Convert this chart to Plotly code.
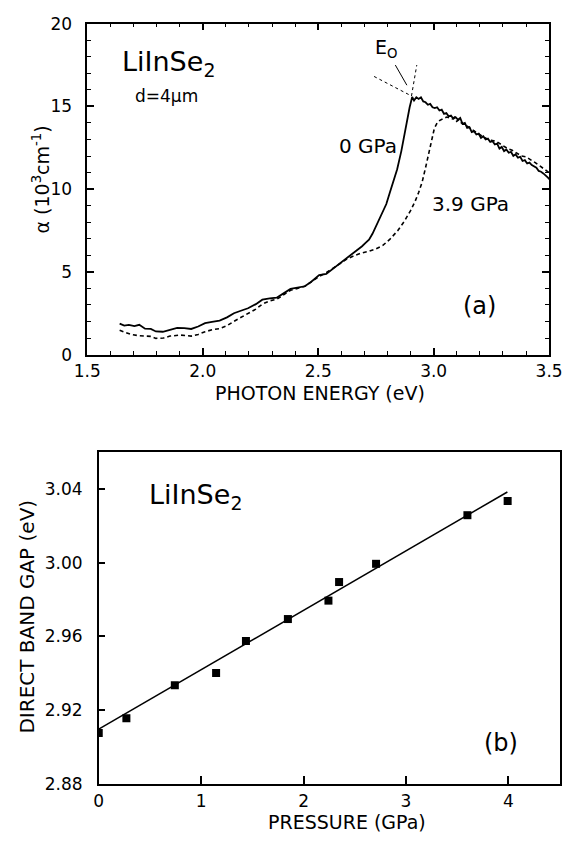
import plotly.graph_objects as go

# ---------------- data: panel (a) ----------------
e_0gpa = [1.640, 1.660, 1.680, 1.704, 1.725, 1.750, 1.775, 1.797, 1.827, 1.860, 1.889, 1.920, 1.950,
          1.980, 2.010, 2.040, 2.073, 2.105, 2.135, 2.165, 2.196, 2.230, 2.258, 2.290, 2.320, 2.350,
          2.380, 2.410, 2.442, 2.470, 2.504, 2.535, 2.565, 2.596, 2.627, 2.658, 2.690, 2.705, 2.720,
          2.735, 2.750, 2.765, 2.780, 2.795, 2.811, 2.825, 2.842, 2.860, 2.873, 2.885, 2.896, 2.907,
          2.915, 2.925, 2.935, 2.945, 2.955,
          2.965, 2.975, 2.985, 2.995, 3.005, 3.015, 3.025, 3.035, 3.045, 3.055, 3.065, 3.075, 3.085,
          3.095, 3.105, 3.115, 3.125, 3.135, 3.145, 3.155, 3.165, 3.175, 3.185, 3.195, 3.205, 3.215,
          3.225, 3.235, 3.245, 3.255, 3.265, 3.275, 3.285, 3.295, 3.305, 3.315, 3.325, 3.335, 3.345,
          3.355, 3.365, 3.375, 3.385, 3.395, 3.405, 3.415, 3.425, 3.435, 3.445, 3.455, 3.465, 3.475,
          3.485, 3.495, 3.500]
a_0gpa = [1.87, 1.75, 1.80, 1.72, 1.80, 1.57, 1.55, 1.40, 1.38, 1.50, 1.62, 1.60, 1.55,
          1.70, 1.90, 1.98, 2.05, 2.25, 2.50, 2.65, 2.80, 3.05, 3.32, 3.40, 3.44, 3.70,
          3.97, 4.05, 4.13, 4.40, 4.80, 4.88, 5.20, 5.55, 5.85, 6.19, 6.55, 6.75, 6.95,
          7.30, 7.75, 8.10, 8.55, 9.10, 9.83, 10.50, 11.20, 12.30, 13.30, 14.20, 14.95, 15.57,
          15.35, 15.55, 15.45, 15.55, 15.30,
          15.25, 15.10, 15.15, 14.95, 14.90, 14.95, 14.75, 14.80, 14.55, 14.60, 14.40, 14.45, 14.25,
          14.35, 14.20, 14.30, 13.95, 14.00, 13.70, 13.75, 13.45, 13.50, 13.30, 13.35, 13.10, 13.20,
          13.00, 13.05, 12.85, 12.90, 12.70, 12.75, 12.45, 12.55, 12.30, 12.40, 12.20, 12.25, 12.00,
          12.10, 11.90, 11.95, 11.70, 11.75, 11.55, 11.60, 11.45, 11.35, 11.30, 11.10, 11.05, 10.95,
          10.85, 10.70, 10.60]

e_39gpa = [1.640, 1.660, 1.689, 1.720, 1.750, 1.775, 1.797, 1.830, 1.858, 1.904, 1.950, 1.980,
           2.010, 2.040, 2.073, 2.105, 2.135, 2.165, 2.196, 2.230, 2.258, 2.290, 2.320, 2.350,
           2.380, 2.410, 2.442, 2.470, 2.504, 2.535, 2.565, 2.596, 2.627, 2.660, 2.688, 2.720,
           2.750, 2.780, 2.811, 2.845, 2.873, 2.900, 2.919, 2.935, 2.950, 2.965, 2.980, 2.992,
           3.003, 3.015, 3.027, 3.040, 3.057, 3.070, 3.080, 3.090, 3.100, 3.110, 3.120, 3.135,
           3.150, 3.170, 3.190, 3.210, 3.230, 3.250, 3.270, 3.280, 3.300, 3.320, 3.340, 3.360,
           3.380, 3.400, 3.420, 3.440, 3.460, 3.480, 3.500]
a_39gpa = [1.47, 1.35, 1.22, 1.15, 1.12, 1.10, 0.98, 1.00, 1.12, 1.18, 1.12, 1.22,
           1.38, 1.50, 1.57, 1.75, 2.01, 2.25, 2.46, 2.75, 3.05, 3.25, 3.34, 3.60,
           3.89, 4.00, 4.13, 4.40, 4.72, 4.95, 5.21, 5.50, 5.80, 6.00, 6.14, 6.25,
           6.39, 6.60, 6.98, 7.50, 8.06, 8.70, 9.24, 9.80, 10.42, 11.30, 12.19, 13.00,
           13.67, 14.00, 14.16, 14.25, 14.36, 14.30, 14.25, 14.35, 14.10, 14.20, 14.00, 13.90,
           13.75, 13.55, 13.35, 13.20, 13.05, 12.95, 12.90, 12.80, 12.65, 12.45, 12.35, 12.15,
           12.00, 11.95, 11.80, 11.60, 11.40, 11.20, 11.00]

# tangent construction for E0
tan1_e = [2.742, 2.904]
tan1_a = [16.81, 15.63]
tan2_e = [2.904, 2.927]
tan2_a = [15.63, 17.50]
ptr_e = [2.834, 2.884]
ptr_a = [17.50, 16.28]

# ---------------- data: panel (b) ----------------
pressure = [0.0, 0.27, 0.743, 1.146, 1.4375, 1.847, 2.243, 2.347, 2.708, 3.60, 3.993]
band_gap = [2.9075, 2.9155, 2.9334, 2.9401, 2.9575, 2.9694, 2.9794, 2.9895, 2.9994, 3.0258, 3.0335]
fit_p = [0.0, 3.99]
fit_eg = [2.9096, 3.0384]

x_ticks_a = [1.5, 2.0, 2.5, 3.0, 3.5]
x_ticklabels_a = ["1.5", "2.0", "2.5", "3.0", "3.5"]
y_ticks_a = [0, 5, 10, 15, 20]
x_ticks_b = [0, 1, 2, 3, 4]
y_ticks_b = [2.88, 2.92, 2.96, 3.00, 3.04]
y_ticklabels_b = ["2.88", "2.92", "2.96", "3.00", "3.04"]

FONT = "DejaVu Sans"
W, H = 585, 841

fig = go.Figure()
blk = "black"

fig.add_trace(go.Scatter(x=e_0gpa, y=a_0gpa, mode="lines", line=dict(color=blk, width=1.8),
                         xaxis="x", yaxis="y", showlegend=False))
fig.add_trace(go.Scatter(x=e_39gpa, y=a_39gpa, mode="lines",
                         line=dict(color=blk, width=1.6, dash="4px,3px"),
                         xaxis="x", yaxis="y", showlegend=False))
for xs, ys, d in [(tan1_e, tan1_a, "3px,3px"), (tan2_e, tan2_a, "3px,3px"), (ptr_e, ptr_a, "solid")]:
    fig.add_trace(go.Scatter(x=xs, y=ys, mode="lines", line=dict(color=blk, width=1, dash=d),
                             xaxis="x", yaxis="y", showlegend=False))

fig.add_trace(go.Scatter(x=fit_p, y=fit_eg, mode="lines", line=dict(color=blk, width=1.5),
                         xaxis="x2", yaxis="y2", showlegend=False))
fig.add_trace(go.Scatter(x=pressure, y=band_gap, mode="markers",
                         marker=dict(symbol="square", size=8, color=blk),
                         xaxis="x2", yaxis="y2", showlegend=False))

axcommon = dict(showgrid=False, zeroline=False, showline=True, linecolor=blk, linewidth=1.5,
                ticks="inside", tickcolor=blk, tickwidth=1.5,
                tickfont=dict(family=FONT, size=17, color=blk))

def px_x(a, b):
    return [a / W, b / W]

def px_y(top, bottom):
    return [(H - bottom) / H, (H - top) / H]

fig.update_layout(
    width=W, height=H, margin=dict(l=0, r=0, t=0, b=0),
    paper_bgcolor="white", plot_bgcolor="white",
    xaxis=dict(**axcommon, domain=px_x(77, 562), range=[1.5, 3.5], anchor="y",
               tickvals=x_ticks_a, ticktext=x_ticklabels_a, ticklen=7, mirror="ticks",
               ticklabelstandoff=0,
               minor=dict(ticks="inside", dtick=0.1, ticklen=4, tickcolor=blk, tickwidth=1.3)),
    yaxis=dict(**axcommon, domain=px_y(14, 353), range=[0, 20], anchor="x",
               tickvals=y_ticks_a, ticklen=7, mirror="ticks", ticklabelstandoff=10,
               minor=dict(ticks="inside", dtick=1, ticklen=4, tickcolor=blk, tickwidth=1.3)),
    xaxis2=dict(**axcommon, domain=px_x(89, 573), range=[0, 4.5], anchor="y2",
                tickvals=x_ticks_b, ticklen=8, mirror=True, ticklabelstandoff=1),
    yaxis2=dict(**axcommon, domain=px_y(453, 792.5), range=[2.88, 3.06], anchor="x2",
                tickvals=y_ticks_b, ticktext=y_ticklabels_b, ticklen=7, mirror=True,
                ticklabelstandoff=11),
)

def ann(text, x, y, size, xref="paper", yref="paper", angle=0, xanchor="center", yanchor="middle"):
    fig.add_annotation(text=text, x=x, y=y, xref=xref, yref=yref, showarrow=False,
                       textangle=angle, xanchor=xanchor, yanchor=yanchor,
                       font=dict(family=FONT, size=size, color=blk))

# axis titles (paper coordinates from pixels)
ann("PHOTON ENERGY (eV)", 321 / W, (H - 392) / H, 19)
ann("α (10<sup>3</sup>cm<sup>-1</sup>)", 28 / W, (H - 174) / H, 19, angle=-90)
ann("PRESSURE (GPa)", 350 / W, (H - 832) / H, 19)
ann("DIRECT BAND GAP (eV)", 14 / W, (H - 621) / H, 20, angle=-90)

# panel (a) labels
ann("LiInSe<sub>2</sub>", 1.64, 17.6, 27, "x", "y", xanchor="left")
ann("d=4μm", 1.70, 15.6, 17, "x", "y", xanchor="left")
ann("E<sub>O</sub>", 2.795, 18.5, 19, "x", "y")
ann("0 GPa", 2.715, 12.6, 20, "x", "y")
ann("3.9 GPa", 3.16, 9.1, 20, "x", "y")
ann("(a)", 3.2, 2.95, 24, "x", "y")

# panel (b) labels
ann("LiInSe<sub>2</sub>", 0.47, 3.036, 27, "x2", "y2", xanchor="left")
ann("(b)", 3.93, 2.902, 24, "x2", "y2")

fig.write_html("out.html")
